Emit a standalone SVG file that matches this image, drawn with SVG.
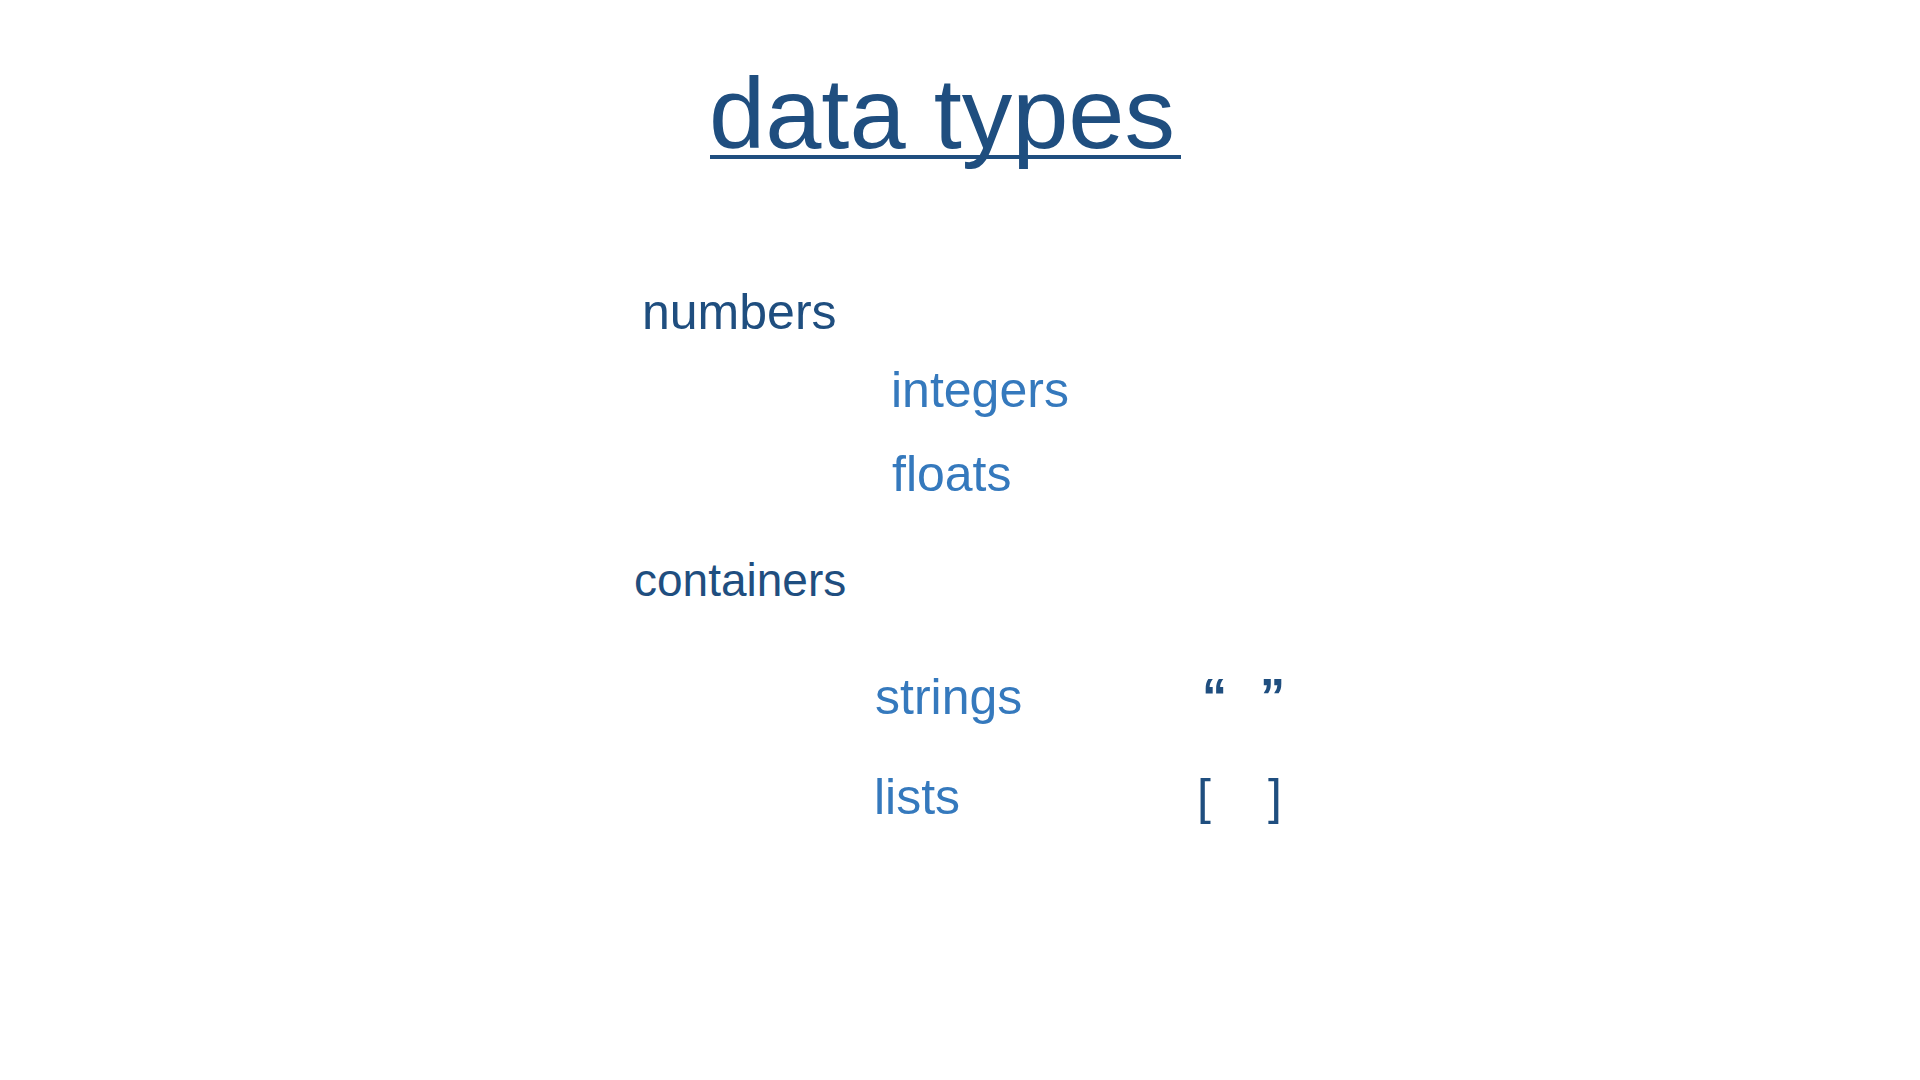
<svg xmlns="http://www.w3.org/2000/svg" width="1920" height="1080" viewBox="0 0 1920 1080">
<style>
text{font-family:"Liberation Sans",Arial,Helvetica,sans-serif}
.title{font-size:101px;fill:#1F4E7F}
.head{font-size:50px;fill:#1F4E7F}
.sub{font-size:50px;fill:#3579BD}
.sym{font-size:50px;fill:#1F4E7F}
.q{font-weight:bold}
</style>
<rect width="1920" height="1080" fill="#FFFFFF"/>
<g id="title">
<text class="title" x="709" y="148">data types</text>
<rect x="710" y="155" width="471" height="4" fill="#1F4E7F"/>
</g>
<g id="numbers"><text class="head" x="642" y="329">numbers</text></g>
<g id="integers"><text class="sub" x="891" y="407">integers</text></g>
<g id="floats"><text class="sub" x="892" y="491">floats</text></g>
<g id="containers"><text class="head" x="634" y="596" style="font-size:46px">containers</text></g>
<g id="strings"><text class="sub" x="875" y="714">strings</text></g>
<g id="string-quotes"><text class="sym q" x="1202" y="714">“</text><text class="sym q" x="1260" y="714">”</text></g>
<g id="lists"><text class="sub" x="874" y="814">lists</text></g>
<g id="list-brackets"><text class="sym" x="1197" y="814">[</text><text class="sym" x="1268" y="814">]</text></g>
<g id="connectors"/>
</svg>
